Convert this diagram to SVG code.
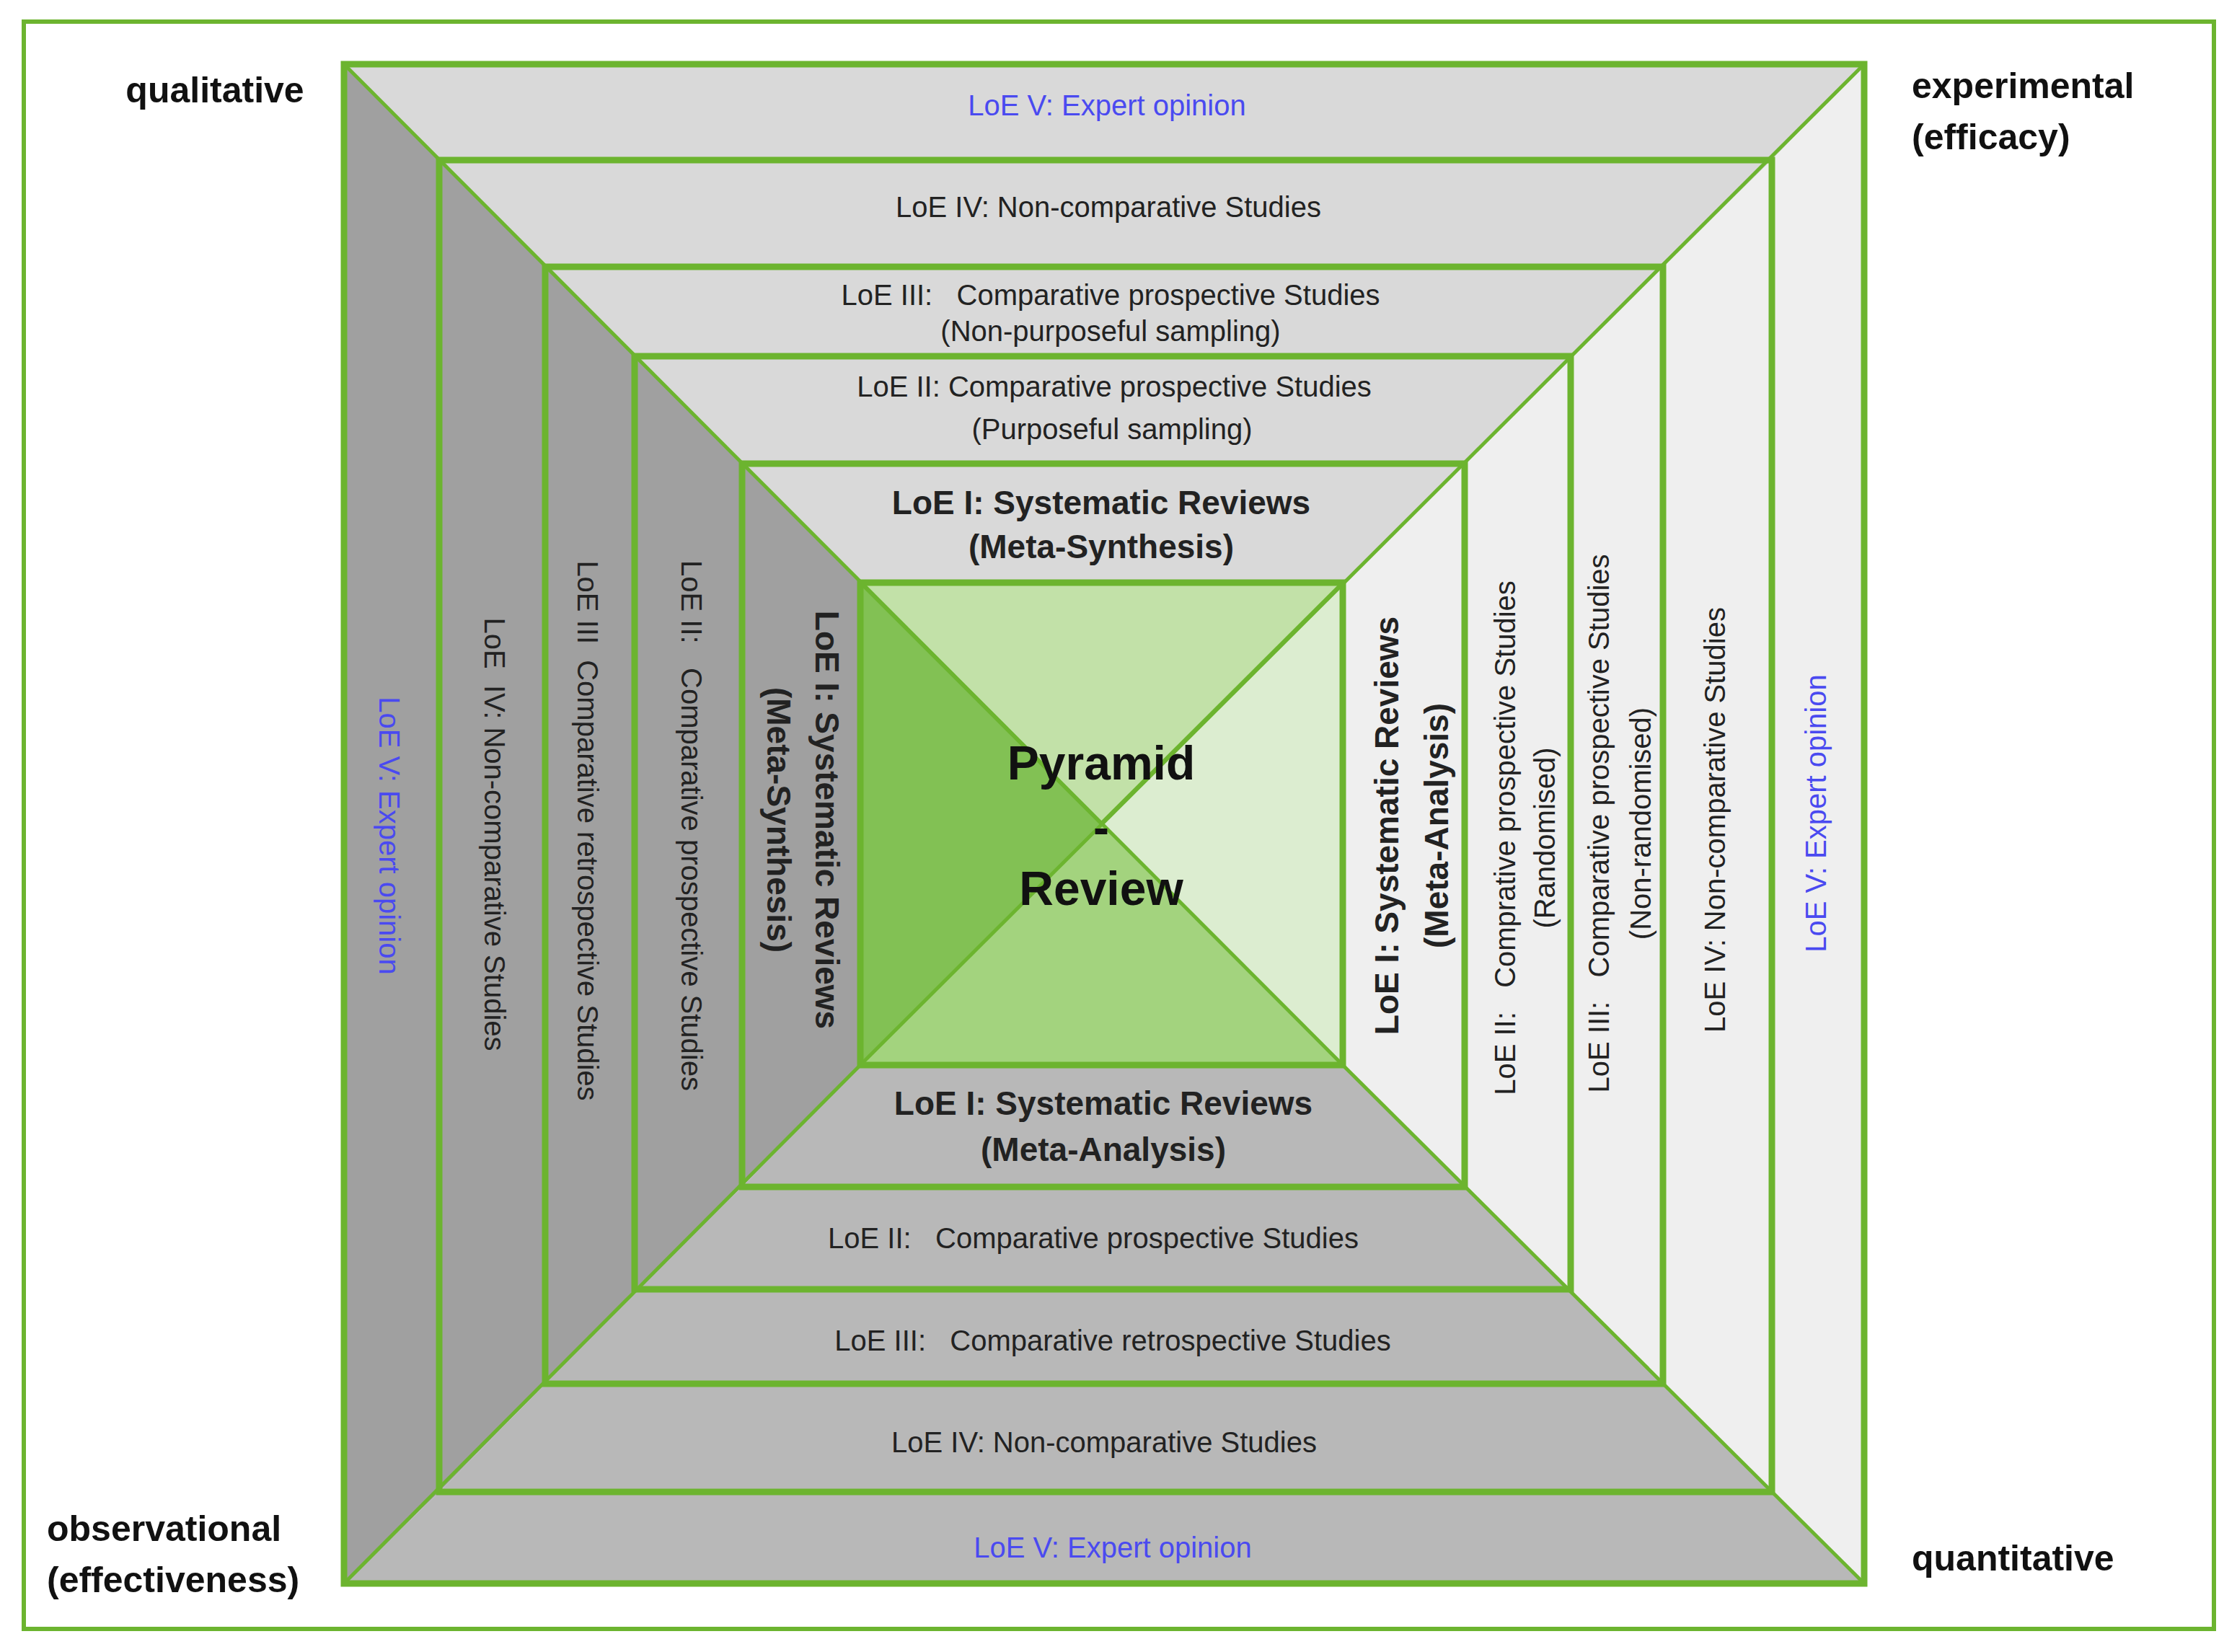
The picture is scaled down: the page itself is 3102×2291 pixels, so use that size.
<svg xmlns="http://www.w3.org/2000/svg" width="3102" height="2291" viewBox="0 0 3102 2291">
<style>
.t{fill:#d9d9d9}.l{fill:#a0a0a0}.b{fill:#b8b8b8}.r{fill:#efefef}
.g{fill:none;stroke:#6cb42f;stroke-width:9}
.d{stroke:#6cb42f;stroke-width:5}
text{font-family:"Liberation Sans",Arial,sans-serif;font-size:40px;fill:#222;text-anchor:middle;dominant-baseline:central}
.bd{font-weight:bold;font-size:46px}
.bl{fill:#4a4af0}
.c{font-weight:bold;font-size:50px;fill:#111}
</style>
<rect x="0" y="0" width="3102" height="2291" fill="#fff"/>
<rect x="33" y="30" width="3037" height="2229" fill="none" stroke="#6cb42f" stroke-width="6"/>
<g id="faces">
<!-- ring 0 -->
<polygon class="t" points="477,89 2585,89 2457,222 609,222"/>
<polygon class="l" points="477,89 609,222 609,2069 477,2196"/>
<polygon class="b" points="477,2196 609,2069 2457,2069 2585,2196"/>
<polygon class="r" points="2585,89 2585,2196 2457,2069 2457,222"/>
<!-- ring 1 -->
<polygon class="t" points="609,222 2457,222 2306,370 756,370"/>
<polygon class="l" points="609,222 756,370 756,1919 609,2069"/>
<polygon class="b" points="609,2069 756,1919 2306,1919 2457,2069"/>
<polygon class="r" points="2457,222 2457,2069 2306,1919 2306,370"/>
<!-- ring 2 -->
<polygon class="t" points="756,370 2306,370 2178,494 880,494"/>
<polygon class="l" points="756,370 880,494 880,1788 756,1919"/>
<polygon class="b" points="756,1919 880,1788 2178,1788 2306,1919"/>
<polygon class="r" points="2306,370 2306,1919 2178,1788 2178,494"/>
<!-- ring 3 -->
<polygon class="t" points="880,494 2178,494 2031,643 1029,643"/>
<polygon class="l" points="880,494 1029,643 1029,1646 880,1788"/>
<polygon class="b" points="880,1788 1029,1646 2031,1646 2178,1788"/>
<polygon class="r" points="2178,494 2178,1788 2031,1646 2031,643"/>
<!-- ring 4 -->
<polygon class="t" points="1029,643 2031,643 1862,808 1193,808"/>
<polygon class="l" points="1029,643 1193,808 1193,1477 1029,1646"/>
<polygon class="b" points="1029,1646 1193,1477 1862,1477 2031,1646"/>
<polygon class="r" points="2031,643 2031,1646 1862,1477 1862,808"/>
<!-- center -->
<polygon fill="#c2e1a8" points="1193,808 1862,808 1527,1142"/>
<polygon fill="#82c154" points="1193,808 1527,1142 1193,1477"/>
<polygon fill="#a3d37e" points="1193,1477 1527,1142 1862,1477"/>
<polygon fill="#dcedd0" points="1862,808 1862,1477 1527,1142"/>
</g>
<g id="connectors">
<line class="d" x1="477" y1="89" x2="1862" y2="1477"/>
<line class="d" x1="2585" y1="89" x2="1193" y2="1477"/>
<line class="d" x1="477" y1="2196" x2="1193" y2="1477"/>
<line class="d" x1="2585" y1="2196" x2="1862" y2="1477"/>
<line class="d" x1="1193" y1="808" x2="1527" y2="1142"/>
<line class="d" x1="1862" y1="808" x2="1527" y2="1142"/>
<rect class="g" x="477" y="89" width="2108" height="2107" stroke-width="6"/>
<rect class="g" x="609" y="222" width="1848" height="1847"/>
<rect class="g" x="756" y="370" width="1550" height="1549"/>
<rect class="g" x="880" y="494" width="1298" height="1294"/>
<rect class="g" x="1029" y="643" width="1002" height="1003"/>
<rect class="g" x="1193" y="808" width="669" height="669" stroke-width="5"/>
</g>
<g id="corners">
<text class="c" x="298" y="125">qualitative</text>
<text class="c" x="2651" y="119" style="text-anchor:start">experimental</text>
<text class="c" x="2651" y="190" style="text-anchor:start">(efficacy)</text>
<text class="c" x="65" y="2120" style="text-anchor:start">observational</text>
<text class="c" x="65" y="2191" style="text-anchor:start">(effectiveness)</text>
<text class="c" x="2651" y="2161" style="text-anchor:start">quantitative</text>
</g>
<g id="top">
<text class="bl" x="1535" y="146">LoE V: Expert opinion</text>
<text x="1537" y="287">LoE IV: Non-comparative  Studies</text>
<text x="1540" y="409" xml:space="preserve">LoE III:   Comparative prospective Studies</text>
<text x="1540" y="459">(Non-purposeful sampling)</text>
<text x="1545" y="536">LoE II: Comparative prospective Studies</text>
<text x="1542" y="595">(Purposeful sampling)</text>
<text class="bd" x="1527" y="697">LoE I: Systematic Reviews</text>
<text class="bd" x="1527" y="758">(Meta-Synthesis)</text>
</g>
<g id="bottom">
<text class="bd" x="1530" y="1530">LoE I: Systematic Reviews</text>
<text class="bd" x="1530" y="1594">(Meta-Analysis)</text>
<text x="1516" y="1717" xml:space="preserve">LoE II:   Comparative prospective Studies</text>
<text x="1543" y="1859" xml:space="preserve">LoE III:   Comparative retrospective Studies</text>
<text x="1531" y="2000">LoE IV: Non-comparative Studies</text>
<text class="bl" x="1543" y="2146">LoE V: Expert opinion</text>
</g>
<g id="left">
<text class="bl" transform="translate(540,1159) rotate(90)">LoE V: Expert opinion</text>
<text transform="translate(686,1157) rotate(90)" xml:space="preserve">LoE  IV: Non-comparative Studies</text>
<text transform="translate(815,1152) rotate(90)" xml:space="preserve">LoE III  Comparative retrospective Studies</text>
<text transform="translate(959,1145) rotate(90)" xml:space="preserve">LoE II:   Comparative prospective Studies</text>
<text class="bd" transform="translate(1147,1137) rotate(90)">LoE I: Systematic Reviews</text>
<text class="bd" transform="translate(1080,1137) rotate(90)">(Meta-Synthesis)</text>
</g>
<g id="right">
<text class="bd" transform="translate(1923,1145) rotate(-90)">LoE I: Systematic Reviews</text>
<text class="bd" transform="translate(1992,1145) rotate(-90)">(Meta-Analysis)</text>
<text transform="translate(2087,1162) rotate(-90)" xml:space="preserve">LoE II:   Comprative prospective Studies</text>
<text transform="translate(2142,1162) rotate(-90)">(Randomised)</text>
<text transform="translate(2217,1142) rotate(-90)" xml:space="preserve">LoE III:   Comparative prospective Studies</text>
<text transform="translate(2275,1142) rotate(-90)">(Non-randomised)</text>
<text transform="translate(2378,1137) rotate(-90)">LoE IV: Non-comparative Studies</text>
<text class="bl" transform="translate(2518,1128) rotate(-90)">LoE V: Expert opinion</text>
</g>
<g id="center">
<text class="c" style="font-size:66px" x="1527" y="1058">Pyramid</text>
<text class="c" style="font-size:66px" x="1527" y="1147">-</text>
<text class="c" style="font-size:66px" x="1527" y="1232">Review</text>
</g>
</svg>
